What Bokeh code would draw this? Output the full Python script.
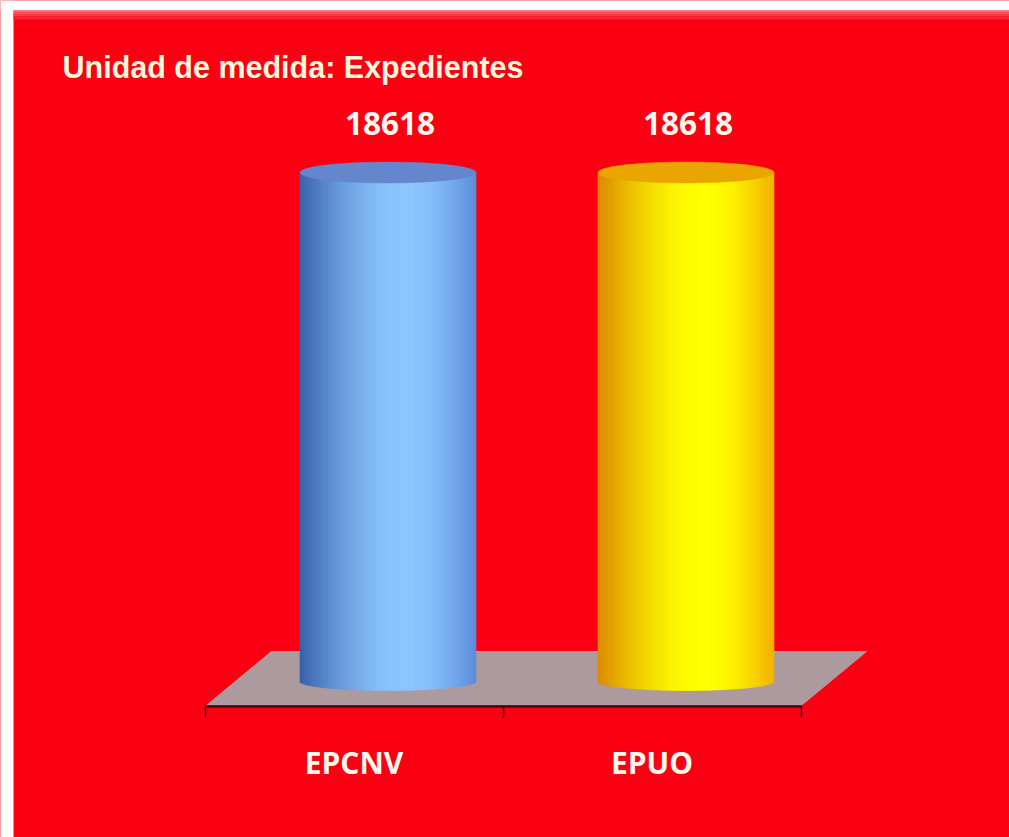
from bokeh.plotting import figure
from bokeh.embed import file_html
from bokeh.resources import INLINE
from bokeh.models import BoxAnnotation, FixedTicker, LinearAxis, Label, ColumnDataSource
from bokeh.core.properties import value
import numpy as np

categories = ["EPCNV", "EPUO"]
values = [18618, 18618]
value_labels = ["18618", "18618"]
left_edge_colors = [(58, 98, 172), (220, 138, 0)]
right_edge_colors = [(92, 142, 218), (244, 176, 0)]
mid_colors = [(140, 198, 255), (255, 255, 0)]
cap_colors = ["#6585cc", "#eba500"]
heading = "Unidad de medida: Expedientes"

W, H = 1009, 837
ORIGIN = 0
PX_X0, PX_PER_CAT = 204.5, 298.0      # page x of first tick, pixels per category
PX_Y0, PX_PER_UNIT = 706.0, 507.0 / 18618.0


def ux(px):
    return (px - PX_X0) / PX_PER_CAT


def uy(py):
    return (PX_Y0 - py) / PX_PER_UNIT


p = figure(width=W, height=H, output_backend="svg", toolbar_location=None,
           x_range=(ux(ORIGIN), ux(ORIGIN + W)), y_range=(uy(ORIGIN + H), uy(ORIGIN)),
           x_axis_type=None, y_axis_type=None, min_border=0,
           background_fill_color="#fb0012", border_fill_color="#ffffff")
p.grid.visible = False
p.outline_line_color = None

# page frame: white strip left and top, soft pale band on top edge
p.add_layout(BoxAnnotation(left=ux(ORIGIN), right=ux(13), fill_color="#ffffff", fill_alpha=1, line_color=None))
p.add_layout(BoxAnnotation(top=uy(ORIGIN), bottom=uy(10), fill_color="#ffffff", fill_alpha=1, line_color=None))
band = [(10, 12, "#f2747c"), (12, 14, "#f65a64"), (14, 16, "#f93c48"), (16, 19, "#fb2030")]
for a, b, c in band:
    p.add_layout(BoxAnnotation(top=uy(a), bottom=uy(b), left=ux(13), fill_color=c, fill_alpha=1, line_color=None))

# floor of the 3D plot
DEPTH_X, DEPTH_Y = ux(866) - ux(802), uy(652) - uy(705)
n_cat = len(categories)
floor_x = [ux(207), n_cat + 0.005, n_cat + 0.005 + DEPTH_X, DEPTH_X + ux(207)]
floor_y = [uy(704), uy(704), uy(704) + DEPTH_Y, uy(704) + DEPTH_Y]
p.patch(floor_x, floor_y, fill_color="#ac9a9e", fill_alpha=1, line_color="#b39aa0", line_width=1)

# cylinders: the light peaks right of centre, the left side is the darker one
HALF_W = 88.0 / PX_PER_CAT
SHIFT_X = 34.0 / PX_PER_CAT
BASE_Y = uy(681)
RY_BOTTOM = 9.0 / PX_PER_UNIT
RY_TOP = 10.5 / PX_PER_UNIT
TOP_SHIFT = uy(172) - values[0]
PEAK = 0.22
N = 88
for i, v in enumerate(values):
    cx = i + 0.5 + SHIFT_X
    edges = np.linspace(-1, 1, N + 1)
    mids = (edges[:-1] + edges[1:]) / 2
    m = np.array(mid_colors[i], dtype=float)
    cols = []
    for u in mids:
        if u < PEAK:
            t = np.sin((u + 1) / (1 + PEAK) * np.pi / 2)
            e = np.array(left_edge_colors[i], dtype=float)
        else:
            t = np.cos((u - PEAK) / (1 - PEAK) * np.pi / 2)
            e = np.array(right_edge_colors[i], dtype=float)
        c = e + (m - e) * t
        cols.append("#%02x%02x%02x" % tuple(int(round(x)) for x in c))
    bottoms = BASE_Y - RY_BOTTOM * np.sqrt(np.clip(1 - mids ** 2, 0, 1))
    src = ColumnDataSource(dict(left=cx + edges[:-1] * HALF_W, right=cx + edges[1:] * HALF_W,
                                top=np.full(N, v + TOP_SHIFT), bottom=bottoms, color=cols))
    p.quad(left="left", right="right", top="top", bottom="bottom", source=src,
           fill_color="color", fill_alpha=1, line_color="color", line_alpha=1, line_width=0.6)
    p.ellipse(x=[cx], y=[v + TOP_SHIFT], width=[2 * HALF_W], height=[2 * RY_TOP],
              fill_color=cap_colors[i], fill_alpha=1, line_color=cap_colors[i], line_width=0.5)

# value labels
p.text(x=[i + 0.5 + SHIFT_X + 2 / PX_PER_CAT for i in range(n_cat)],
       y=[v + uy(123) - uy(172) + TOP_SHIFT for v in values], text=value_labels,
       text_font=value("Open Sans"), text_font_style="bold", text_font_size="31.5px",
       text_color="#fff8ec", text_align="center", text_baseline="middle")

# axis
axis = LinearAxis(ticker=FixedTicker(ticks=[i + 0.5 for i in range(n_cat)],
                                     minor_ticks=list(range(n_cat + 1))),
                  major_label_overrides={i + 0.5: c for i, c in enumerate(categories)},
                  bounds=(0, n_cat), fixed_location=0,
                  axis_line_color="#3a0408", axis_line_width=2,
                  major_tick_line_color=None, major_tick_in=0, major_tick_out=0,
                  minor_tick_line_color="#3a0408", minor_tick_line_width=1.5,
                  minor_tick_in=0, minor_tick_out=11,
                  major_label_standoff=24,
                  major_label_text_font="Open Sans", major_label_text_font_style="bold",
                  major_label_text_font_size="30px", major_label_text_color="#fff8ec")
p.add_layout(axis, "below")

p.add_layout(Label(x=ux(62), y=uy(66), text=heading, text_font="Liberation Sans",
                   text_font_style="bold", text_font_size="30.5px", text_color="#fff6dc",
                   text_align="left", text_baseline="middle"))

open("out.html", "w").write(file_html(p, INLINE))
